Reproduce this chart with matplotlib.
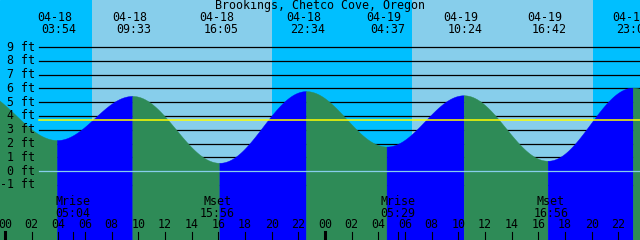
import numpy as np
import matplotlib
matplotlib.use("Agg")
import matplotlib.pyplot as plt

plt.rcParams['font.family'] = ['DejaVu Sans Mono']

title = "Brookings, Chetco Cove, Oregon"

# extremos de marea: horas desde 04-18 00:00 y altura en pies
tide_hours = [-2.33, 3.90, 9.55, 16.08, 22.57, 28.62, 34.40, 40.70, 47.08, 53.30]
tide_feet = [5.90, 2.25, 5.45, 0.60, 5.80, 1.78, 5.50, 0.75, 6.05, 1.20]
tide_dates = ["", "04-18", "04-18", "04-18", "04-18", "04-19", "04-19", "04-19", "04-19", ""]
tide_times = ["", "03:54", "09:33", "16:05", "22:34", "04:37", "10:24", "16:42", "23:05", ""]

# luz del dia (amanecer / atardecer)
day_start = [6.52, 30.50]
day_end = [20.03, 44.08]

# luna
moon_events = ["Mrise", "Mset", "Mrise", "Mset"]
moon_times = ["05:04", "15:56", "05:29", "16:56"]
moon_hours = [5.07, 15.93, 29.48, 40.93]

mean_level = 3.67
ft_levels = list(range(-1, 10))
hour_ticks = list(range(0, 48, 2))

night = "#00BFFF"
day = "#87CEEB"
ebb = "#2E8B57"
flood = "#0000FF"

x0, x1 = -0.375, 47.625
y0, y1 = -5.0, 12.41

fig = plt.figure(figsize=(6.4, 2.4), dpi=100)
ax = fig.add_axes([0, 0, 1, 1])
ax.set_xlim(x0, x1)
ax.set_ylim(y0, y1)
ax.axis("off")
ax.add_patch(plt.Rectangle((x0, y0), x1 - x0, y1 - y0, color=night, zorder=0))

for a, b in zip(day_start, day_end):
    ax.axvspan(a, b, color=day, lw=0, zorder=0.5)

line_start = 2.55
for ft in ft_levels:
    if ft != 0:
        ax.plot([line_start, x1], [ft, ft], color="black", lw=0.9, zorder=1)

# curva de marea entre extremos
for i in range(len(tide_hours) - 1):
    ha, hb = tide_hours[i], tide_hours[i + 1]
    fa, fb = tide_feet[i], tide_feet[i + 1]
    t = np.linspace(ha, hb, 200)
    f = (t - ha) / (hb - ha)
    y = fa + (fb - fa) * (1 - np.cos(np.pi * f)) / 2
    col = flood if fb > fa else ebb
    ax.fill_between(t, y, y0, color=col, lw=0.3, edgecolor=col, zorder=2)

ax.plot([line_start, x1], [0, 0], color=day, lw=0.9, zorder=3)
ax.plot([line_start, x1], [mean_level, mean_level], color="yellow", lw=1.1, zorder=3)

fs = 8.4
for ft in ft_levels:
    ax.text(2.25, ft, f"{ft} ft", ha="right", va="center", fontsize=fs, zorder=4)

ax.text(0.5, 0.978, title, transform=ax.transAxes, ha="center", va="center", fontsize=fs, zorder=4)

for d, tm, h in zip(tide_dates, tide_times, tide_hours):
    if not d:
        continue
    ax.text(h - 0.2, 0.926, d, transform=ax.get_xaxis_transform(), ha="center", va="center", fontsize=fs, zorder=4)
    ax.text(h + 0.1, 0.877, tm, transform=ax.get_xaxis_transform(), ha="center", va="center", fontsize=fs, zorder=4)

for ev, tm, h in zip(moon_events, moon_times, moon_hours):
    ax.text(h, 0.16, ev, transform=ax.get_xaxis_transform(), ha="center", va="center", fontsize=fs, zorder=4)
    ax.text(h, 0.111, tm, transform=ax.get_xaxis_transform(), ha="center", va="center", fontsize=fs, zorder=4)
    if ev == "Mrise":
        ax.plot([h, h], [0, 0.034], transform=ax.get_xaxis_transform(), color="black", lw=0.8, zorder=4)

for h in hour_ticks:
    ax.text(h, 0.0625, f"{h % 24:02d}", transform=ax.get_xaxis_transform(), ha="center", va="center", fontsize=fs, zorder=4)
    lw = 2.2 if h % 24 == 0 else 0.8
    ax.plot([h, h], [0, 0.034], transform=ax.get_xaxis_transform(), color="black", lw=lw, zorder=4)

fig.savefig("out.png", dpi=100)
